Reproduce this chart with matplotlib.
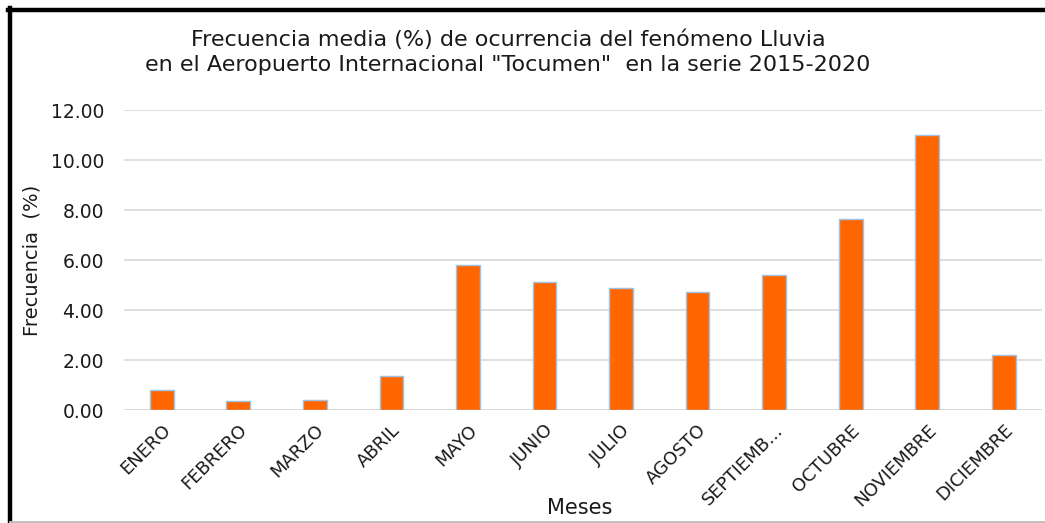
import matplotlib
matplotlib.use("Agg")
import matplotlib.pyplot as plt
from matplotlib.lines import Line2D

months = ["ENERO", "FEBRERO", "MARZO", "ABRIL", "MAYO", "JUNIO", "JULIO",
          "AGOSTO", "SEPTIEMB...", "OCTUBRE", "NOVIEMBRE", "DICIEMBRE"]
freq = [0.81, 0.37, 0.41, 1.35, 5.81, 5.11, 4.87, 4.73, 5.41, 7.65, 11.01, 2.21]
yticks = [0, 2, 4, 6, 8, 10, 12]
title = ('Frecuencia media (%) de ocurrencia del fenómeno Lluvia\n'
         'en el Aeropuerto Internacional "Tocumen"  en la serie 2015-2020')

plt.rcParams['font.family'] = ['DejaVu Sans']
W, H = 1045, 523
fig = plt.figure(figsize=(W / 100, H / 100), dpi=100)
ax = fig.add_axes([123.5 / W, 1 - 410 / H, (1042 - 123.5) / W, 300 / H])

x = list(range(len(months)))
ax.bar(x, freq, width=0.31, color='#FF6600', edgecolor='#9DC3E6', linewidth=1.0, zorder=3)
ax.set_xlim(-0.5, len(months) - 0.5)
ax.set_ylim(0, 12)
ax.set_yticks(yticks)
ax.set_yticklabels([f"{v:.2f}" for v in yticks], fontsize=13.5, color='#1a1a1a')
ax.set_xticks(x)
ax.set_xticklabels(months, rotation=45, ha='right', rotation_mode='anchor',
                   fontsize=13, color='#1a1a1a')
ax.tick_params(axis='both', length=0)
ax.tick_params(axis='y', pad=14)
ax.tick_params(axis='x', pad=8)
ax.grid(axis='y', color='#d9d9d9', linewidth=1.2, zorder=0)
for s in ax.spines.values():
    s.set_visible(False)
ax.axhline(0, color='#d9d9d9', linewidth=1.2, zorder=1)

fig.text(32 / W, 1 - 260 / H, 'Frecuencia  (%)', rotation=90, ha='center', va='center',
         fontsize=14, color='#1a1a1a')
fig.text(580 / W, 1 - 508 / H, 'Meses', ha='center', va='center', fontsize=15, color='#1a1a1a')
fig.text(508 / W, 1 - 52 / H, title, ha='center', va='center', fontsize=16,
         color='#1a1a1a', linespacing=1.3)

# outer frame
fig.add_artist(Line2D([8 / W, 1], [1 - 10 / H, 1 - 10 / H], color='black', linewidth=3.2,
                      transform=fig.transFigure))
fig.add_artist(Line2D([10 / W, 10 / W], [0, 1 - 8 / H], color='black', linewidth=3.2,
                      transform=fig.transFigure))
fig.add_artist(Line2D([10 / W, 1], [1 - 521.5 / H, 1 - 521.5 / H], color='#bfbfbf', linewidth=2,
                      transform=fig.transFigure))

fig.savefig('out.png', dpi=100)
